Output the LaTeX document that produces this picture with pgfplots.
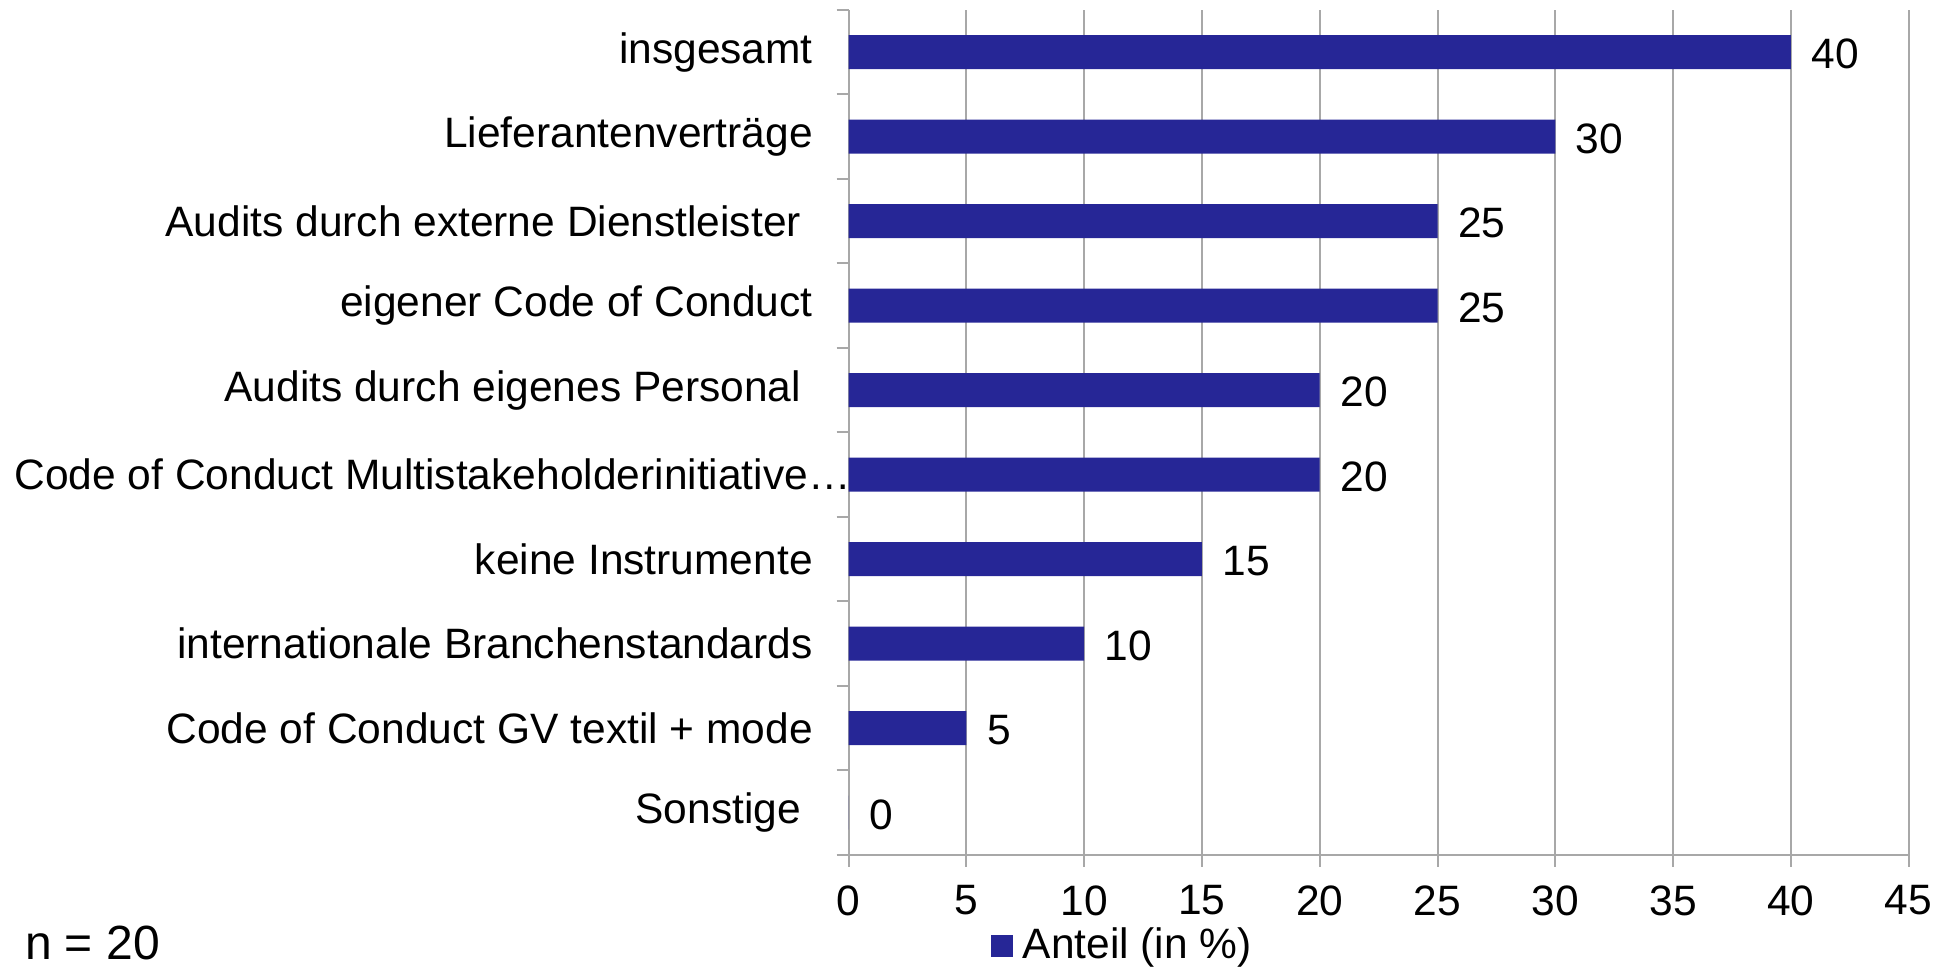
\documentclass[border=0pt]{standalone}
\usepackage{fontspec}
\setmainfont{Liberation Sans}
\usepackage{pgfplots}
\pgfplotsset{compat=1.18}
\definecolor{barblue}{RGB}{38,38,150}
\definecolor{gridgray}{RGB}{168,168,168}
\begin{document}
\begin{tikzpicture}[font=\fontsize{12.75}{15}\selectfont]
\useasboundingbox (0,0) rectangle (585.3pt,290.7pt);
\begin{axis}[
  at={(254.58pt,34.2pt)}, anchor=south west,
  scale only axis, width=318pt, height=253.5pt,
  xbar, bar width=10.2pt,
  xmin=0, xmax=45, ymin=-0.5, ymax=9.5,
  axis x line*=bottom, axis y line*=left,
  axis line style={draw=gridgray, line width=0.6pt},
  xtick={0,5,...,45},
  xmajorgrids, grid style={draw=gridgray, line width=0.6pt},
  tick align=outside, major tick length=3.6pt,
  tick style={draw=gridgray, line width=0.6pt},
  ytick={-0.5,0.5,...,9.5}, yticklabels={},
  extra y ticks={0,1,...,9},
  extra y tick style={major tick length=0pt, tick style={draw=none}},
  extra y tick labels={Sonstige\kern0.278em, Code of Conduct GV textil + mode, internationale Branchenstandards, keine Instrumente, Code of Conduct Multistakeholderinitiative…\kern-11.4pt, Audits durch eigenes Personal\kern0.278em, eigener Code of Conduct, Audits durch externe Dienstleister\kern0.278em, Lieferantenverträge, insgesamt},
  yticklabel style={anchor=east, inner sep=0pt, xshift=-10.55pt},
  xticklabel style={anchor=north, inner sep=0pt, yshift=-5.4pt},
  /pgf/number format/assume math mode=true,
  nodes near coords,
  nodes near coords style={anchor=west, inner sep=0pt, xshift=6pt, yshift=-0.6pt, text=black},
  legend style={at={(0.1334,-0.1077)}, anchor=west, draw=none, fill=none, inner sep=0pt, nodes={inner sep=0pt}},
  legend image code/.code={\fill[barblue] (0pt,-3.3pt) rectangle (6.6pt,3.3pt); \path (9.6pt,0pt);},
]
\addplot[fill=barblue, draw=none] coordinates {
  (0,0) (5,1) (10,2) (15,3) (20,4) (20,5) (25,6) (25,7) (30,8) (40,9)
};
\addlegendentry{Anteil (in \%)}
\end{axis}
\node[anchor=base west, inner sep=0pt, font=\fontsize{14.4}{17}\selectfont] at (7.3pt,2.9pt) {n = 20};
\end{tikzpicture}
\end{document}
